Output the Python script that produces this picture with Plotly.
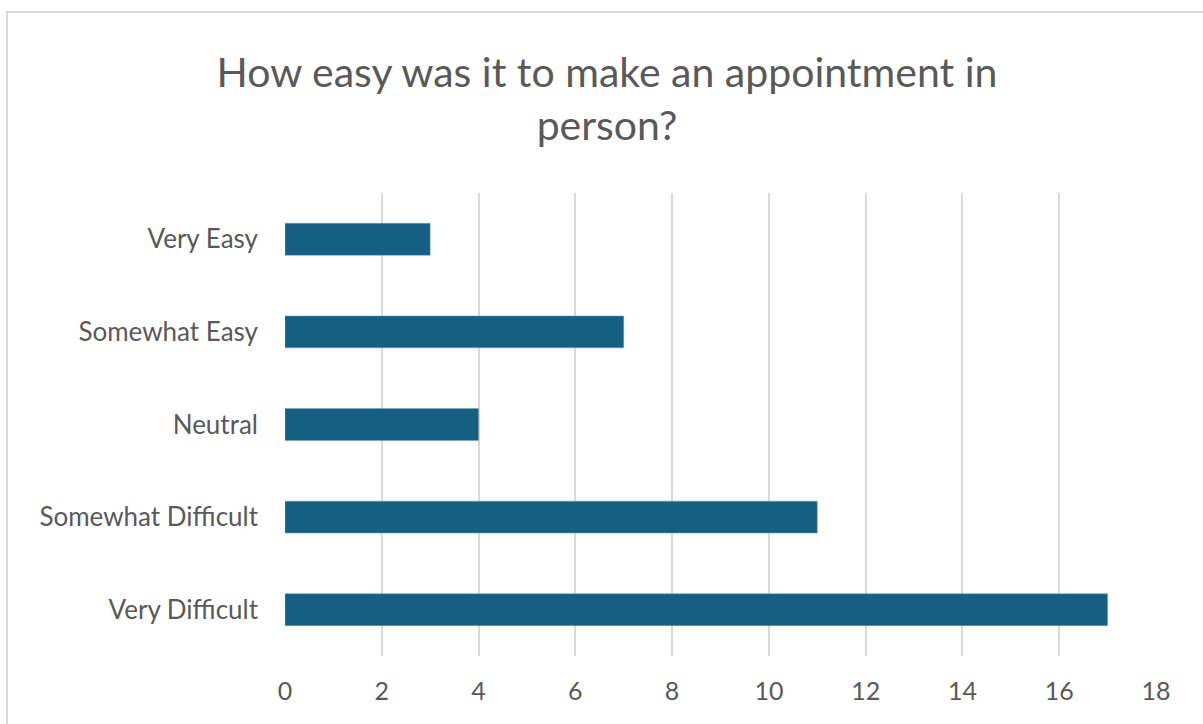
import plotly.graph_objects as go

categories = ["Very Easy", "Somewhat Easy", "Neutral", "Somewhat Difficult", "Very Difficult"]
counts = [3, 7, 4, 11, 17]
x_ticks = [0, 2, 4, 6, 8, 10, 12, 14, 16, 18]

W, H = 1203, 724
L, R, T, B = 285, 47, 193, 68
pw, ph = W - L - R, H - T - B

FONT = "Lato, Open Sans, sans-serif"
GREY = "#595959"

fig = go.Figure(go.Bar(
    x=counts, y=categories, orientation="h",
    marker=dict(color="#156082", line=dict(color="#6fa3bd", width=0.5)),
    hoverinfo="x+y",
))

fig.update_layout(
    width=W, height=H,
    margin=dict(l=L, r=R, t=T, b=B),
    paper_bgcolor="white", plot_bgcolor="white",
    bargap=0.655,
    showlegend=False,
    font=dict(family=FONT, color=GREY),
    title=dict(
        text="How easy was it to make an appointment in<br>person?",
        x=(607 - L) / pw, xref="paper", xanchor="center",
        y=1 - 87 / H, yref="container", yanchor="middle",
        font=dict(size=41, color=GREY, family=FONT),
    ),
    xaxis=dict(
        range=[0, 18], tickvals=x_ticks, showgrid=True,
        gridcolor="#D9D9D9", gridwidth=2, zeroline=False,
        showline=False, ticks="", ticklabelstandoff=18,
        tickfont=dict(size=25, color=GREY, family=FONT),
        fixedrange=True,
    ),
    yaxis=dict(
        categoryorder="array", categoryarray=categories, autorange="reversed",
        showgrid=False, zeroline=False, showline=False, ticks="",
        ticklabelstandoff=26,
        tickfont=dict(size=26, color=GREY, family=FONT),
        fixedrange=True,
    ),
    shapes=[dict(
        type="rect", xref="paper", yref="paper",
        x0=(7 - L) / pw, x1=(1260 - L) / pw,
        y0=-(800 - (H - B)) / ph, y1=(H - B - 12) / ph,
        line=dict(color="#D9D9D9", width=2), fillcolor="rgba(0,0,0,0)", layer="below",
    )],
)

fig.write_html("out.html", config={"displayModeBar": False},
               post_script="document.body.style.margin='0';")
